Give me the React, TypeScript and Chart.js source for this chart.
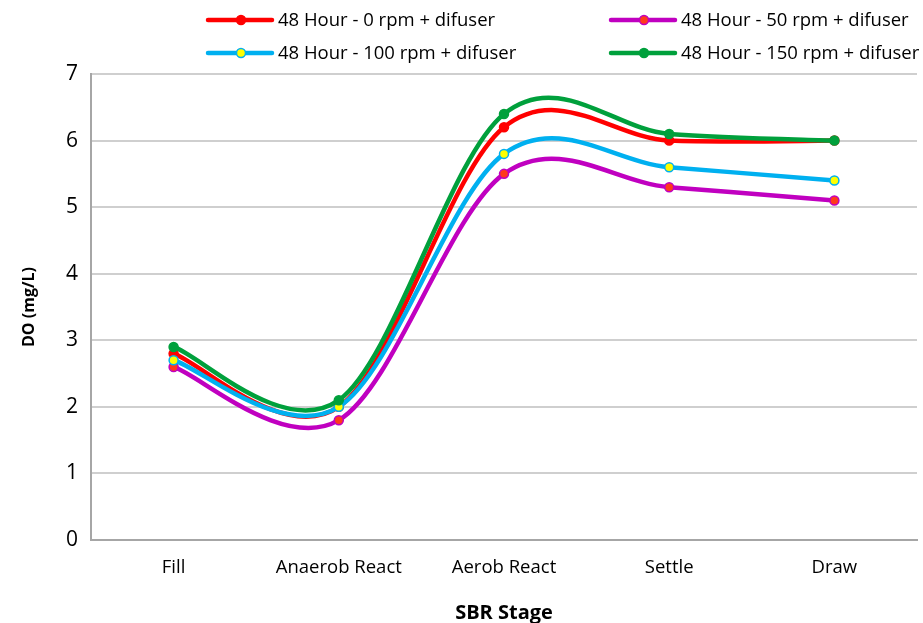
import React, { useEffect, useRef } from 'react';
import Chart from 'chart.js/auto';

const stages = ['Fill', 'Anaerob React', 'Aerob React', 'Settle', 'Draw'];
const rpm0 = [2.8, 2.0, 6.2, 6.0, 6.0];
const rpm50 = [2.6, 1.8, 5.5, 5.3, 5.1];
const rpm100 = [2.7, 2.0, 5.8, 5.6, 5.4];
const rpm150 = [2.9, 2.1, 6.4, 6.1, 6.0];
const seriesNames = [
  '48 Hour - 0 rpm + difuser',
  '48 Hour - 50 rpm + difuser',
  '48 Hour - 100 rpm + difuser',
  '48 Hour - 150 rpm + difuser',
];
const yTicks = [0, 1, 2, 3, 4, 5, 6, 7];

const FONT = "'Open Sans', sans-serif";

// legend laid out as a 2x2 grid like the original
const legendPlugin = {
  id: 'gridLegend',
  afterDraw(chart: any) {
    const ctx = chart.ctx;
    const cols = [208, 611];
    const rows = [20, 53];
    chart.data.datasets.forEach((ds: any, i: number) => {
      const x = cols[i % 2];
      const y = rows[Math.floor(i / 2)];
      ctx.save();
      ctx.strokeStyle = ds.borderColor;
      ctx.lineWidth = 4.5;
      ctx.lineCap = 'round';
      ctx.beginPath();
      ctx.moveTo(x, y);
      ctx.lineTo(x + 64, y);
      ctx.stroke();
      ctx.beginPath();
      ctx.arc(x + 33, y, 4.5, 0, Math.PI * 2);
      ctx.fillStyle = ds.pointBackgroundColor;
      ctx.fill();
      ctx.lineWidth = 1.5;
      ctx.strokeStyle = ds.pointBorderColor;
      ctx.stroke();
      ctx.fillStyle = '#000';
      ctx.font = `18.5px ${FONT}`;
      ctx.textBaseline = 'middle';
      ctx.fillText(ds.label, x + 70, y + 1);
      ctx.restore();
    });
  },
};

// Excel-style smoothing: uniform Catmull-Rom control points
const smoothPlugin = {
  id: 'excelSmooth',
  beforeDatasetsDraw(chart: any) {
    chart.getSortedVisibleDatasetMetas().forEach((meta: any) => {
      const line = meta.dataset;
      if (!line) return;
      line.updateControlPoints(chart.chartArea, 'x');
      const pts = meta.data;
      pts.forEach((p: any, i: number) => {
        const prev = pts[i - 1] || p;
        const next = pts[i + 1] || p;
        const dx = (next.x - prev.x) / 6;
        const dy = (next.y - prev.y) / 6;
        p.cp1x = p.x - dx;
        p.cp1y = p.y - dy;
        p.cp2x = p.x + dx;
        p.cp2y = p.y + dy;
      });
    });
  },
};

const App: React.FC = () => {
  const canvasRef = useRef<HTMLCanvasElement>(null);
  const chartRef = useRef<Chart | null>(null);

  useEffect(() => {
    if (!canvasRef.current) return;
    if (chartRef.current) chartRef.current.destroy();

    const mk = (label: string, data: number[], line: string, fill: string, order: number) => ({
      label,
      data,
      borderColor: line,
      backgroundColor: line,
      borderWidth: 4.5,
      pointRadius: 4.5,
      pointBackgroundColor: fill,
      pointBorderColor: line,
      pointBorderWidth: 1.5,
      tension: 0.4,
      order,
    });

    chartRef.current = new Chart(canvasRef.current, {
      type: 'line',
      data: {
        labels: stages,
        datasets: [
          mk(seriesNames[0], rpm0, '#ff0000', '#ff0000', 4),
          mk(seriesNames[1], rpm50, '#c000c0', '#ff3a1a', 3),
          mk(seriesNames[2], rpm100, '#00b0f0', '#ffff00', 2),
          mk(seriesNames[3], rpm150, '#00a03c', '#00a03c', 1),
        ],
      },
      options: {
        responsive: false,
        animation: false,
        layout: { padding: { top: 74, right: 2, left: 0, bottom: 0 } },
        plugins: {
          legend: { display: false },
          tooltip: { enabled: false },
        },
        scales: {
          x: {
            offset: true,
            grid: { display: false, drawTicks: false },
            border: { color: '#a6a6a6', width: 2 },
            ticks: { color: '#000', font: { family: FONT, size: 18.5 }, padding: 17 },
            title: {
              display: true,
              text: 'SBR Stage',
              color: '#000',
              font: { family: FONT, size: 20, weight: 'bold' },
              padding: { top: 0, bottom: -2 },
            },
            afterFit: (s: any) => {
              s.height = 83;
            },
          },
          y: {
            min: 0,
            max: 7,
            afterBuildTicks: (s: any) => {
              s.ticks = yTicks.map((v) => ({ value: v }));
            },
            grid: { color: '#cfcfcf', lineWidth: 2, drawTicks: false },
            border: { color: '#a6a6a6', width: 2 },
            ticks: { color: '#000', font: { family: FONT, size: 21 }, padding: 13 },
            title: {
              display: true,
              text: 'DO (mg/L)',
              color: '#000',
              font: { family: FONT, size: 16, weight: 'bold' },
              padding: { top: 20, bottom: 0 },
            },
            afterFit: (s: any) => {
              s.width = 91;
            },
          },
        },
      },
      plugins: [smoothPlugin, legendPlugin],
    });

    return () => {
      if (chartRef.current) {
        chartRef.current.destroy();
        chartRef.current = null;
      }
    };
  }, []);

  return (
    <div style={{ position: 'fixed', left: 0, top: 0, width: 923, height: 623, background: '#fff' }}>
      <canvas ref={canvasRef} width={923} height={623} />
    </div>
  );
};

export default App;
